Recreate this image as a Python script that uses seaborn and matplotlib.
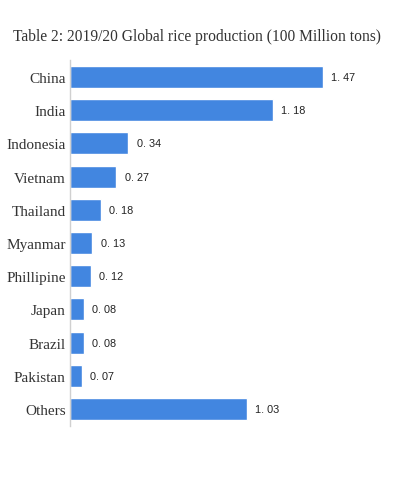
import matplotlib
matplotlib.use("Agg")
import matplotlib.pyplot as plt
import seaborn as sns
import pandas as pd

countries = ["China", "India", "Indonesia", "Vietnam", "Thailand", "Myanmar",
             "Phillipine", "Japan", "Brazil", "Pakistan", "Others"]
production = [1.47, 1.18, 0.34, 0.27, 0.18, 0.13, 0.12, 0.08, 0.08, 0.07, 1.03]
title = "Table 2: 2019/20 Global rice production (100 Million tons)"

df = pd.DataFrame({"country": countries, "production": production})

sns.set_style("white")
W, H = 393, 489
fig = plt.figure(figsize=(W / 100, H / 100), dpi=100)
left = 70 / W
top = 1 - 61.4 / H
bottom = 1 - 426.6 / H
ax = fig.add_axes([left, bottom, 1 - left, top - bottom])

sns.barplot(data=df, x="production", y="country", orient="h", ax=ax,
            color="#4286E0", width=0.66, saturation=1)

ax.set_xlim(0, (W - 70) / 172.0)
ax.set_ylim(len(countries) - 0.5, -0.5)
ax.set_xlabel("")
ax.set_ylabel("")
ax.set_xticks([])
for s in ["top", "right", "bottom"]:
    ax.spines[s].set_visible(False)
ax.spines["left"].set_color("#d0d0d0")
ax.spines["left"].set_linewidth(1)
ax.tick_params(axis="y", length=0, pad=3)
for lab in ax.get_yticklabels():
    lab.set_fontfamily("Liberation Serif")
    lab.set_fontsize(11)
    lab.set_color("#333333")

for i, v in enumerate(production):
    ax.annotate(f"{v:.2f}".replace(".", ". "), xy=(v, i), xytext=(6, 0),
                textcoords="offset points", va="center", ha="left",
                fontsize=7.8, family="Liberation Sans", color="#222222")

fig.text(0.5, 1 - 37 / H, title, ha="center", va="center",
         fontsize=11.2, family="Liberation Serif", color="#333333")

fig.savefig("out.png", dpi=100)
